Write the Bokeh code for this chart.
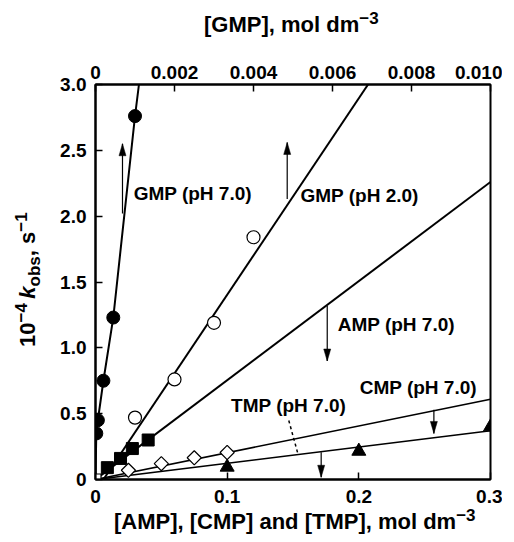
import math
from bokeh.plotting import figure
from bokeh.models import Range1d, LinearAxis, FixedTicker, Label, Div
from bokeh.layouts import column, row
from bokeh.embed import file_html
from bokeh.resources import INLINE

# ---------------- data ----------------
gmp7_x = [0.00002, 0.00006, 0.0002, 0.00045, 0.001]
gmp7_y = [0.35, 0.45, 0.75, 1.23, 2.76]
gmp7_line_x = [0.0, 0.00002, 0.00006, 0.0002, 0.00045, 0.001, 0.0011]
gmp7_line_y = [0.0, 0.35, 0.45, 0.75, 1.23, 2.76, 3.0]

gmp2_x = [0.001, 0.002, 0.003, 0.004]
gmp2_y = [0.47, 0.76, 1.19, 1.84]
gmp2_line_x = [0.0002, 0.0069]
gmp2_line_y = [0.0, 3.0]

amp_x = [0.009, 0.019, 0.028, 0.04]
amp_y = [0.09, 0.16, 0.235, 0.30]
amp_line_x = [0.0, 0.3]
amp_line_y = [0.0, 2.26]

cmp_x = [0.025, 0.05, 0.075, 0.1]
cmp_y = [0.07, 0.12, 0.165, 0.205]
cmp_line_x = [0.0, 0.3]
cmp_line_y = [0.0, 0.61]

tmp_x = [0.1, 0.2, 0.3]
tmp_y = [0.094, 0.215, 0.40]
tmp_line_x = [0.0, 0.3]
tmp_line_y = [0.0, 0.37]

origin_x = [0.0]
origin_y = [0.0]

# arrows (bottom-axis data coordinates)
arrow_x = [0.0205, 0.1456, 0.176, 0.257, 0.1714]
arrow_y0 = [2.02, 2.13, 1.32, 0.53, 0.207]
arrow_y1 = [2.55, 2.56, 0.90, 0.35, 0.017]

leader_x = [0.1468, 0.1536]
leader_y = [0.448, 0.20]

label_text = ["GMP (pH 7.0)", "GMP (pH 2.0)", "AMP (pH 7.0)", "CMP (pH 7.0)", "TMP (pH 7.0)"]
label_x = [0.029, 0.1557, 0.184, 0.2007, 0.103]
label_y = [2.17, 2.157, 1.18, 0.70, 0.56]

x_ticks = [0, 0.1, 0.2, 0.3]
x_tick_labels = ["0", "0.1", "0.2", "0.3"]
y_ticks = [0, 0.5, 1.0, 1.5, 2.0, 2.5, 3.0]
y_tick_labels = ["0", "0.5", "1.0", "1.5", "2.0", "2.5", "3.0"]
top_ticks = [0, 0.002, 0.004, 0.006, 0.008, 0.010]
top_tick_labels = ["0", "0.002", "0.004", "0.006", "0.008", "0.010"]

x_title = "[AMP], [CMP] and [TMP], mol dm"
top_title = "[GMP], mol dm"
unit_exp = "\u22123"

FONT = "Liberation Sans"

# ---------------- figure ----------------
TOP_H = 40
LEFT_W = 50
p = figure(frame_width=395, frame_height=395,
           x_range=Range1d(0, 0.3), y_range=Range1d(0, 3.0),
           output_backend="svg", toolbar_location=None,
           min_border_left=95 - LEFT_W, min_border_top=84 - TOP_H,
           min_border_right=12, min_border_bottom=34,
           x_axis_location="below")
p.extra_x_ranges = {"gmp": Range1d(0, 0.010)}
p.grid.visible = False
p.outline_line_color = "black"
p.outline_line_width = 2
p.background_fill_color = "white"
p.border_fill_color = "white"

top_axis = LinearAxis(x_range_name="gmp")
p.add_layout(top_axis, "above")
bottom_axis = p.below[0]
left_axis = p.left[0]

def style_axis(ax, ticks, labels, standoff):
    ax.ticker = FixedTicker(ticks=ticks)
    ax.major_label_overrides = {t: l for t, l in zip(ticks, labels)}
    ax.major_tick_in = 7
    ax.major_tick_out = 0
    ax.minor_tick_line_color = None
    ax.major_tick_line_width = 1.5
    ax.axis_line_width = 2
    ax.axis_line_color = "black"
    ax.major_tick_line_color = "black"
    ax.major_label_text_font = FONT
    ax.major_label_text_font_style = "bold"
    ax.major_label_text_font_size = "19px"
    ax.major_label_text_color = "black"
    ax.major_label_standoff = standoff

style_axis(bottom_axis, x_ticks, x_tick_labels, 10)
style_axis(left_axis, y_ticks, y_tick_labels, 9)
style_axis(top_axis, top_ticks, top_tick_labels, 6)

LW = 2
p.line(gmp7_line_x, gmp7_line_y, x_range_name="gmp", line_color="black", line_width=LW)
p.line(gmp2_line_x, gmp2_line_y, x_range_name="gmp", line_color="black", line_width=LW)
p.line(amp_line_x, amp_line_y, line_color="black", line_width=LW)
p.line(cmp_line_x, cmp_line_y, line_color="black", line_width=1.6)
p.line(tmp_line_x, tmp_line_y, line_color="black", line_width=1.6)

# arrows
for x, y0, y1 in zip(arrow_x, arrow_y0, arrow_y1):
    p.line([x, x], [y0, y1], line_color="black", line_width=1.2)
hl = 12 * 3.0 / 395
hw = 3.5 * 0.3 / 395
head_xs, head_ys = [], []
for x, y0, y1 in zip(arrow_x, arrow_y0, arrow_y1):
    d = 1 if y1 > y0 else -1
    head_xs.append([x, x - hw, x + hw])
    head_ys.append([y1, y1 - d * hl, y1 - d * hl])
p.patches(head_xs, head_ys, fill_color="black", line_color="black", line_width=0.5)

p.line(leader_x, leader_y, line_color="black", line_width=1.5, line_dash="3 3")

# markers
p.scatter(gmp7_x, gmp7_y, x_range_name="gmp", marker="circle", size=13,
          fill_color="black", line_color="black")
p.scatter(gmp2_x, gmp2_y, x_range_name="gmp", marker="circle", size=13,
          fill_color="white", line_color="black", line_width=1.2)
p.scatter(amp_x, amp_y, marker="square", size=12, fill_color="black", line_color="black")
p.scatter(cmp_x, cmp_y, marker="square", angle=math.pi / 4, size=10,
          fill_color="white", line_color="black", line_width=1.2)
p.scatter(tmp_x, tmp_y, marker="triangle", size=14, fill_color="black", line_color="black")
p.scatter(origin_x, origin_y, marker="square", size=11, fill_color="white",
          line_color="black", line_width=1.2)

for t, x, y in zip(label_text, label_x, label_y):
    p.add_layout(Label(x=x, y=y, text=t, text_font=FONT, text_font_style="bold",
                       text_font_size="19px", text_baseline="middle", text_align="left",
                       text_color="black"))

# ---------------- axis titles as HTML text ----------------
FIG_W = 95 - LEFT_W + 395 + 12
FIG_H = 84 - TOP_H + 395 + 34
TOTAL_W = LEFT_W + FIG_W
BASE = f"font-family:'{FONT}';font-weight:bold;font-size:22px;line-height:22px;color:black;white-space:nowrap;"
SUP = "font-size:17px;position:relative;top:-8px;"
SUB = "font-size:17px;position:relative;top:5px;"

top_div = Div(width=TOTAL_W, height=TOP_H, margin=0, text=(
    f'<div style="position:relative;width:{TOTAL_W}px;height:{TOP_H}px;">'
    f'<div style="position:absolute;left:204px;top:14px;{BASE}">'
    f'{top_title}<span style="{SUP}">{unit_exp}</span></div></div>'))

BOTTOM_H = 542 - TOP_H - FIG_H
bottom_div = Div(width=TOTAL_W, height=BOTTOM_H, margin=0, text=(
    f'<div style="position:relative;width:{TOTAL_W}px;height:{BOTTOM_H}px;">'
    f'<div style="position:absolute;left:114px;top:{530 - (TOP_H + FIG_H) - 19}px;{BASE}">'
    f'{x_title}<span style="{SUP}">{unit_exp}</span></div></div>'))

ylab_top = 347 - TOP_H
left_div = Div(width=LEFT_W, height=FIG_H, margin=0, text=(
    f'<div style="position:relative;width:{LEFT_W}px;height:{FIG_H}px;">'
    f'<div style="position:absolute;left:17px;top:{ylab_top}px;transform-origin:0 0;'
    f'transform:rotate(-90deg);{BASE}">'
    f'10<span style="{SUP}">\u22124</span>&thinsp;<i>k</i><span style="{SUB}">obs</span>, '
    f's<span style="{SUP}">\u22121</span></div></div>'))

layout = column(top_div, row(left_div, p, spacing=0), bottom_div, spacing=0)

open("out.html", "w").write(file_html(layout, INLINE))
